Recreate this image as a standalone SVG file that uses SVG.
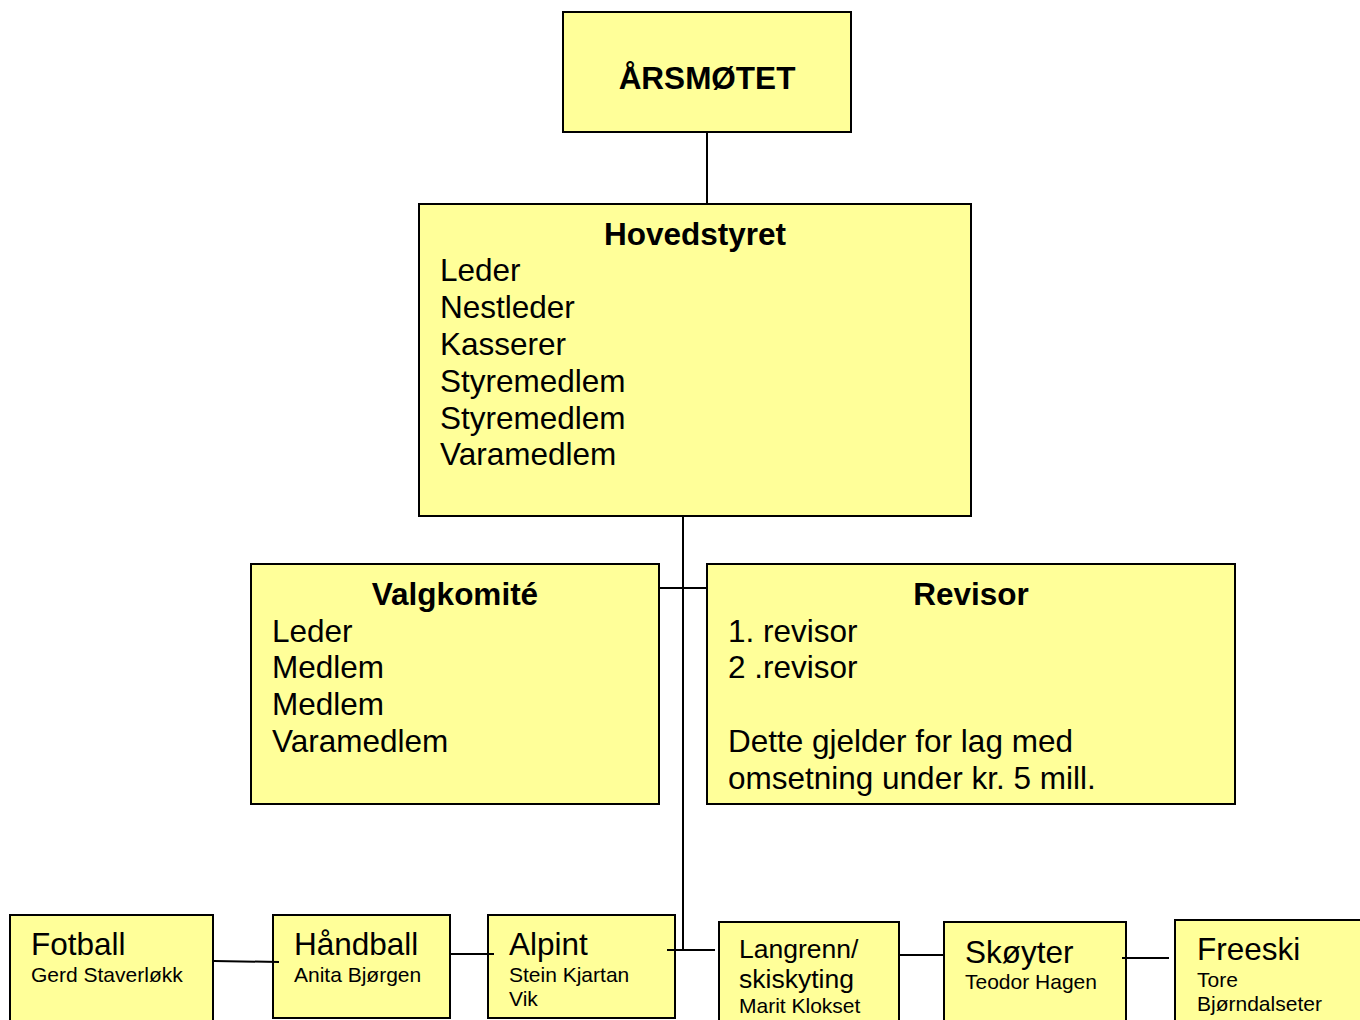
<svg xmlns="http://www.w3.org/2000/svg" width="1360" height="1020" viewBox="0 0 1360 1020">
<style>
.box{fill:#FFFF99;stroke:#000;stroke-width:2}
text{font-family:"Liberation Sans",Arial,sans-serif;fill:#000}
.b{font-weight:bold;font-size:31.5px}
.t{font-size:31.5px}
.m{font-size:26.5px}
.s{font-size:21px}
.c{text-anchor:middle}
.ln{stroke:#000;stroke-width:2;fill:none}
</style>
<rect width="1360" height="1020" fill="#fff"/>
<g id="arsmotet">
<rect class="box" x="563" y="12" width="288" height="120"/>
<text class="b c" x="707" y="89">ÅRSMØTET</text>
</g>
<g id="hovedstyret">
<rect class="box" x="419" y="204" width="552" height="312"/>
<text class="b c" x="695" y="245">Hovedstyret</text>
<text class="t" x="440" y="281">Leder</text>
<text class="t" x="440" y="318">Nestleder</text>
<text class="t" x="440" y="355">Kasserer</text>
<text class="t" x="440" y="392">Styremedlem</text>
<text class="t" x="440" y="429">Styremedlem</text>
<text class="t" x="440" y="465">Varamedlem</text>
</g>
<g id="valgkomite">
<rect class="box" x="251" y="564" width="408" height="240"/>
<text class="b c" x="455" y="605">Valgkomité</text>
<text class="t" x="272" y="642">Leder</text>
<text class="t" x="272" y="678">Medlem</text>
<text class="t" x="272" y="715">Medlem</text>
<text class="t" x="272" y="752">Varamedlem</text>
</g>
<g id="revisor">
<rect class="box" x="707" y="564" width="528" height="240"/>
<text class="b c" x="971" y="605">Revisor</text>
<text class="t" x="728" y="642">1. revisor</text>
<text class="t" x="728" y="678">2 .revisor</text>
<text class="t" x="728" y="752">Dette gjelder for lag med</text>
<text class="t" x="728" y="789">omsetning under kr. 5 mill.</text>
</g>
<g id="fotball">
<rect class="box" x="10" y="915" width="203" height="115"/>
<text class="t" x="31" y="955">Fotball</text>
<text class="s" x="31" y="982">Gerd Staverløkk</text>
</g>
<g id="handball">
<rect class="box" x="273" y="915" width="177" height="103"/>
<text class="t" x="294" y="955">Håndball</text>
<text class="s" x="294" y="982">Anita Bjørgen</text>
</g>
<g id="alpint">
<rect class="box" x="488" y="915" width="187" height="103"/>
<text class="t" x="509" y="955">Alpint</text>
<text class="s" x="509" y="982">Stein Kjartan</text>
<text class="s" x="509" y="1006">Vik</text>
</g>
<g id="langrenn">
<rect class="box" x="719" y="922" width="180" height="110"/>
<text class="m" x="739" y="958">Langrenn/</text>
<text class="m" x="739" y="988">skiskyting</text>
<text class="s" x="739" y="1013">Marit Klokset</text>
</g>
<g id="skoyter">
<rect class="box" x="944" y="922" width="182" height="110"/>
<text class="t" x="965" y="963">Skøyter</text>
<text class="s" x="965" y="989">Teodor Hagen</text>
</g>
<g id="freeski">
<rect class="box" x="1175" y="920" width="200" height="110"/>
<text class="t" x="1197" y="960">Freeski</text>
<text class="s" x="1197" y="987">Tore</text>
<text class="s" x="1197" y="1011">Bjørndalseter</text>
</g>
<g id="connectors">
<line class="ln" x1="707" y1="133" x2="707" y2="203"/>
<line class="ln" x1="683" y1="517" x2="683" y2="951"/>
<line class="ln" x1="660" y1="588" x2="706" y2="588"/>
<line class="ln" x1="667" y1="950" x2="715" y2="950"/>
<line class="ln" x1="214" y1="961" x2="279" y2="962"/>
<line class="ln" x1="451" y1="954" x2="494" y2="954"/>
<line class="ln" x1="900" y1="955" x2="943" y2="955"/>
<line class="ln" x1="1122" y1="958" x2="1169" y2="958"/>
</g>
</svg>
